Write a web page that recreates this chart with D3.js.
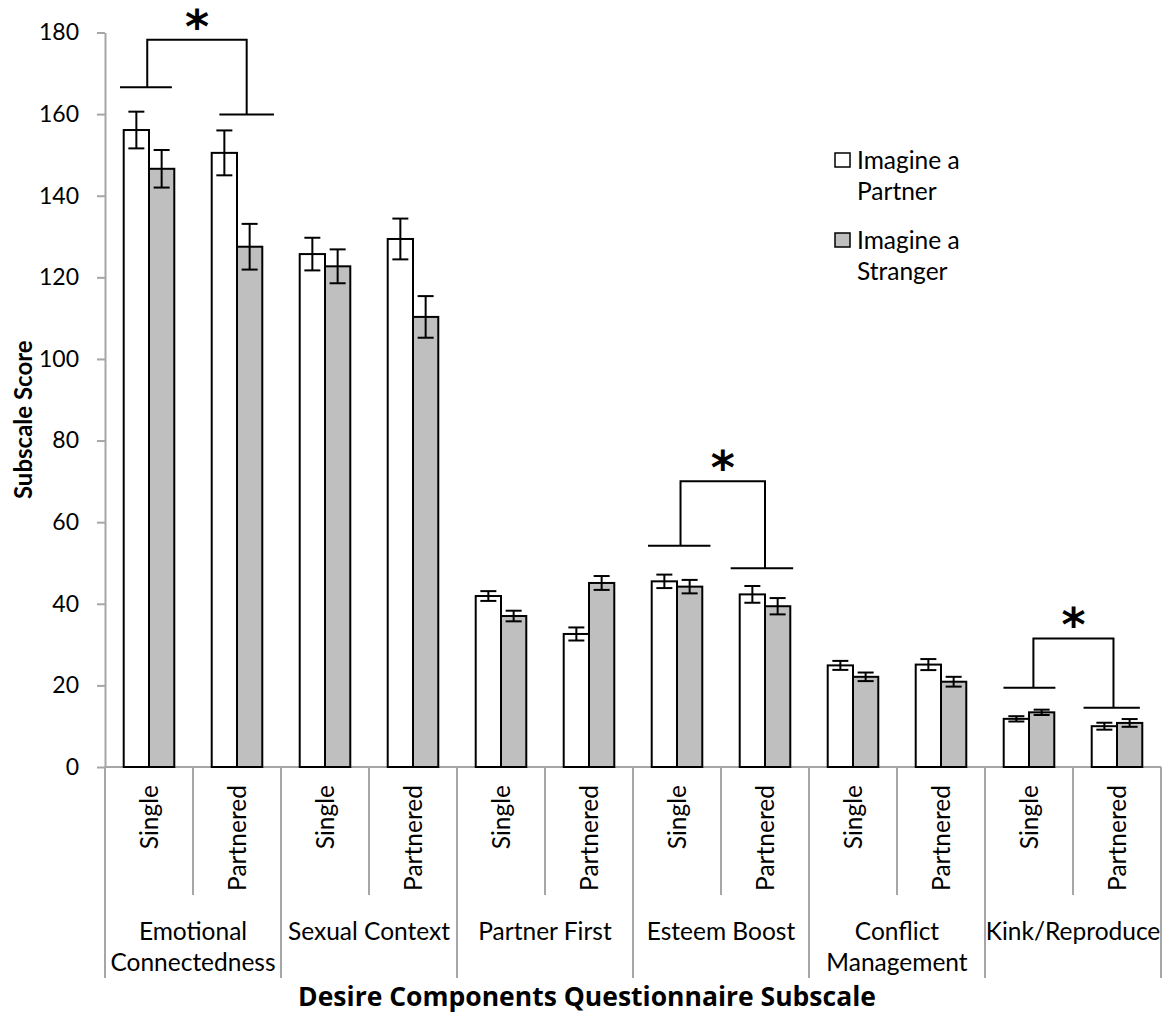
<!DOCTYPE html>
<html>
<head>
<meta charset="utf-8">
<script src="https://cdn.jsdelivr.net/npm/d3@7"></script>
<style>
  body { margin: 0; background: #fff; }
  svg { display: block; font-family: Lato, sans-serif; }
  .axis text { font-size: 24.5px; fill: #000; font-family: Lato, sans-serif; }
  .y-axis text { font-size: 23px; }
  .axis path, .axis line { stroke: #a6a6a6; stroke-width: 2; }
</style>
</head>
<body>
<svg id="chart"></svg>
<script>
// data
const components = ['Emotional\nConnectedness', 'Sexual Context', 'Partner First', 'Esteem Boost', 'Conflict\nManagement', 'Kink/Reproduce'];
const statuses = ['Single', 'Partnered'];
const seriesNames = ['Imagine a\nPartner', 'Imagine a\nStranger'];

// one value per component x status (Single, Partnered, Single, Partnered, ...)
const partnerMeans   = [156.1, 150.5, 125.7, 129.4, 41.9, 32.6, 45.5, 42.3, 24.9, 25.1, 11.8, 10.0];
const partnerErr     = [4.5, 5.5, 4.0, 5.0, 1.2, 1.6, 1.65, 2.05, 1.1, 1.35, 0.65, 0.85];
const strangerMeans  = [146.6, 127.5, 122.7, 110.3, 37.0, 45.1, 44.2, 39.4, 22.1, 20.9, 13.4, 10.8];
const strangerErr    = [4.6, 5.6, 4.15, 5.1, 1.3, 1.7, 1.65, 2.0, 1.05, 1.2, 0.65, 0.95];

const yTicks = [0, 20, 40, 60, 80, 100, 120, 140, 160, 180];

// significance brackets: pair of columns, heights (in score units)
const sigPairs  = [[0, 1], [6, 7], [10, 11]];
const sigLeft   = [166.6, 54.2, 19.4];
const sigRight  = [159.9, 48.7, 14.5];
const sigTop    = [178.2, 70.0, 31.5];

// ---- layout
const width = 1164, height = 1014;
const plot = {left: 105, right: 1161, top: 32.5, bottom: 767};

const rows = [];
components.forEach((c, ci) => {
  statuses.forEach((s, si) => {
    const i = ci * 2 + si;
    rows.push({
      key: c + '|' + s, comp: c, status: s, ci: ci,
      values: [
        {series: 'partner', mean: partnerMeans[i], err: partnerErr[i]},
        {series: 'stranger', mean: strangerMeans[i], err: strangerErr[i]}
      ]
    });
  });
});

const svg = d3.select('#chart')
  .attr('width', width)
  .attr('height', height);

const x = d3.scaleBand()
  .domain(rows.map(d => d.key))
  .range([plot.left, plot.right])
  .padding(0);

const xs = d3.scaleBand()
  .domain(['partner', 'stranger'])
  .range([0, x.bandwidth()])
  .paddingInner(0)
  .paddingOuter(0.74);

const y = d3.scaleLinear()
  .domain([0, 180])
  .range([plot.bottom, plot.top]);

const fill = {partner: '#ffffff', stranger: '#bfbfbf'};

// y axis
svg.append('g')
  .attr('class', 'axis y-axis')
  .attr('transform', `translate(${plot.left},0)`)
  .call(d3.axisLeft(y).tickValues(yTicks).tickSize(8).tickSizeOuter(0).tickPadding(18));

// category axis: baseline + separators
const catG = svg.append('g').attr('class', 'axis x-axis');
catG.append('line')
  .attr('x1', plot.left).attr('x2', plot.right)
  .attr('y1', y(0)).attr('y2', y(0));

// separators between Single / Partnered
catG.selectAll('.sub-sep')
  .data(rows.filter(d => d.status === 'Partnered'))
  .join('line')
  .attr('class', 'sub-sep')
  .attr('x1', d => x(d.key)).attr('x2', d => x(d.key))
  .attr('y1', y(0)).attr('y2', 895);

// separators between components
const compEdges = components.map(c => x(c + '|Single')).concat([plot.right]);
catG.selectAll('.comp-sep')
  .data(compEdges)
  .join('line')
  .attr('class', 'comp-sep')
  .attr('x1', d => d).attr('x2', d => d)
  .attr('y1', y(0)).attr('y2', 978);

// status labels (rotated)
catG.selectAll('.status-label')
  .data(rows)
  .join('text')
  .attr('class', 'status-label')
  .attr('transform', d => `translate(${x(d.key) + x.bandwidth() / 2},${y(0) + 18}) rotate(-90)`)
  .attr('text-anchor', 'end')
  .attr('dy', '0.35em')
  .text(d => d.status);

// component labels
catG.selectAll('.comp-label')
  .data(components)
  .join('text')
  .attr('class', 'comp-label')
  .attr('text-anchor', 'middle')
  .attr('x', c => x(c + '|Single') + x.bandwidth())
  .attr('y', 940)
  .selectAll('tspan')
  .data(c => c.split('\n'))
  .join('tspan')
  .attr('x', function () { return d3.select(this.parentNode).attr('x'); })
  .attr('dy', (d, i) => i === 0 ? 0 : 31)
  .text(d => d);

// bars
const groups = svg.append('g')
  .selectAll('g')
  .data(rows)
  .join('g')
  .attr('transform', d => `translate(${x(d.key)},0)`);

groups.selectAll('rect')
  .data(d => d.values)
  .join('rect')
  .attr('x', d => xs(d.series))
  .attr('y', d => y(d.mean))
  .attr('width', xs.bandwidth())
  .attr('height', d => y(0) - y(d.mean))
  .attr('fill', d => fill[d.series])
  .attr('stroke', '#000')
  .attr('stroke-width', 2);

// error bars
const cap = 8;
const eb = groups.selectAll('.err')
  .data(d => d.values)
  .join('g')
  .attr('class', 'err')
  .attr('stroke', '#000')
  .attr('stroke-width', 2);
eb.append('line')
  .attr('x1', d => xs(d.series) + xs.bandwidth() / 2)
  .attr('x2', d => xs(d.series) + xs.bandwidth() / 2)
  .attr('y1', d => y(d.mean + d.err))
  .attr('y2', d => y(d.mean - d.err));
eb.append('line')
  .attr('x1', d => xs(d.series) + xs.bandwidth() / 2 - cap)
  .attr('x2', d => xs(d.series) + xs.bandwidth() / 2 + cap)
  .attr('y1', d => y(d.mean + d.err)).attr('y2', d => y(d.mean + d.err));
eb.append('line')
  .attr('x1', d => xs(d.series) + xs.bandwidth() / 2 - cap)
  .attr('x2', d => xs(d.series) + xs.bandwidth() / 2 + cap)
  .attr('y1', d => y(d.mean - d.err)).attr('y2', d => y(d.mean - d.err));

// significance brackets (fractions of a column's width)
const bracketShape = [
  {lBar: [0.17, 0.76], rBar: [0.30, 0.92], lStem: 0.48, rStem: 0.61},
  {lBar: [0.17, 0.88], rBar: [0.11, 0.82], lStem: 0.54, rStem: 0.50},
  {lBar: [0.21, 0.80], rBar: [0.12, 0.76], lStem: 0.55, rStem: 0.46}
];
const bw = x.bandwidth();
sigPairs.forEach((p, i) => {
  const a = x(rows[p[0]].key), b = x(rows[p[1]].key);
  const s = bracketShape[i];
  const sl = a + s.lStem * bw, sr = b + s.rStem * bw;
  const yl = y(sigLeft[i]), yr = y(sigRight[i]), yt = y(sigTop[i]);
  const path = d3.path();
  path.moveTo(a + s.lBar[0] * bw, yl); path.lineTo(a + s.lBar[1] * bw, yl);
  path.moveTo(sl, yl); path.lineTo(sl, yt); path.lineTo(sr, yt); path.lineTo(sr, yr);
  path.moveTo(b + s.rBar[0] * bw, yr); path.lineTo(b + s.rBar[1] * bw, yr);
  svg.append('path')
    .attr('d', path.toString())
    .attr('fill', 'none')
    .attr('stroke', '#000')
    .attr('stroke-width', 2);
  svg.append('text')
    .attr('x', (sl + sr) / 2)
    .attr('y', yt + 3)
    .attr('text-anchor', 'middle')
    .style('font-family', 'DejaVu Sans')
    .style('font-weight', 'bold')
    .style('font-size', '46px')
    .text('*');
});

// axis titles
svg.append('text')
  .attr('transform', `translate(32,${(plot.top + plot.bottom) / 2 + 20}) rotate(-90)`)
  .attr('text-anchor', 'middle')
  .style('font-size', '24px')
  .style('font-weight', 'bold')
  .text('Subscale Score');

svg.append('text')
  .attr('x', 587)
  .attr('y', 1006)
  .attr('text-anchor', 'middle')
  .style('font-family', '"Open Sans", sans-serif')
  .style('font-size', '26.5px')
  .style('font-weight', 'bold')
  .text('Desire Components Questionnaire Subscale');

// legend
const legend = svg.append('g')
  .attr('transform', 'translate(835,153)');
const li = legend.selectAll('g')
  .data(['partner', 'stranger'])
  .join('g')
  .attr('transform', (d, i) => `translate(0,${i * 80})`);
li.append('rect')
  .attr('width', 15).attr('height', 14)
  .attr('fill', d => fill[d])
  .attr('stroke', '#000')
  .attr('stroke-width', 1.5);
li.append('text')
  .attr('x', 22)
  .attr('y', 16)
  .style('font-size', '24.5px')
  .selectAll('tspan')
  .data((d, i) => seriesNames[i].split('\n'))
  .join('tspan')
  .attr('x', 22)
  .attr('dy', (d, i) => i === 0 ? 0 : 31)
  .text(d => d);
</script>
</body>
</html>
